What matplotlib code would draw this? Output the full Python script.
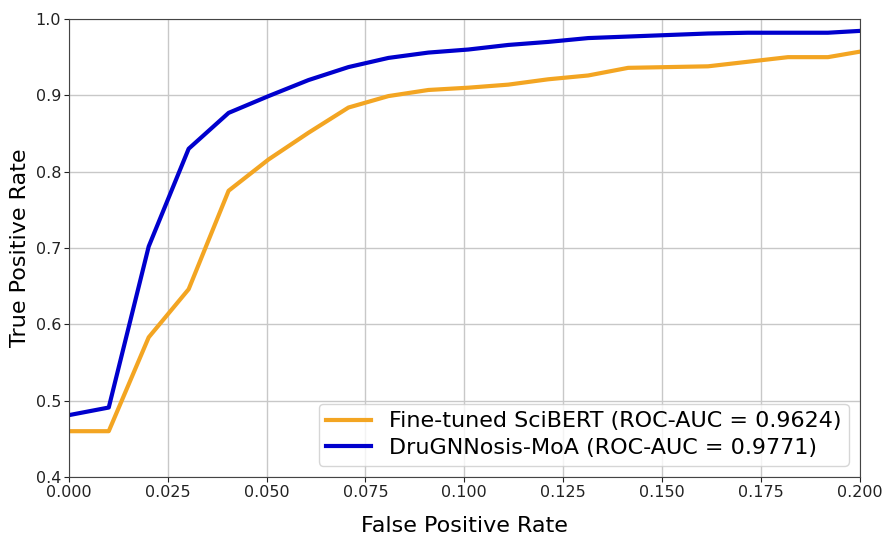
import numpy as np
import matplotlib
matplotlib.use("Agg")
import matplotlib.pyplot as plt

# FPR grid (mean ROC style, np.linspace(0, 1, 100) cut at ~0.2)
fpr = [0.0, 0.0101, 0.0202, 0.0303, 0.0404, 0.0505, 0.0606, 0.0707, 0.0808,
       0.0909, 0.1010, 0.1111, 0.1212, 0.1313, 0.1414, 0.1515, 0.1616,
       0.1717, 0.1818, 0.1919, 0.2020]

# Fine-tuned SciBERT
tpr_scibert = [0.460, 0.460, 0.583, 0.646, 0.775, 0.816, 0.851, 0.884, 0.899,
               0.907, 0.910, 0.914, 0.921, 0.926, 0.936, 0.937, 0.938,
               0.944, 0.950, 0.950, 0.959]

# DruGNNosis-MoA
tpr_moa = [0.481, 0.491, 0.702, 0.830, 0.877, 0.899, 0.920, 0.937, 0.949,
           0.956, 0.960, 0.966, 0.970, 0.975, 0.977, 0.979, 0.981,
           0.982, 0.982, 0.982, 0.985]

label_scibert = "Fine-tuned SciBERT (ROC-AUC = 0.9624)"
label_moa = "DruGNNosis-MoA (ROC-AUC = 0.9771)"

fig = plt.figure(figsize=(8.82, 5.38), dpi=100)
ax = fig.add_axes([0.078, 0.1134, 0.897, 0.8513])

ax.plot(fpr, tpr_scibert, color="#f3a522", lw=3, label=label_scibert)
ax.plot(fpr, tpr_moa, color="#0000cd", lw=3, label=label_moa)

ax.set_xlim(0, 0.2)
ax.set_ylim(0.4, 1.0)
ax.set_xticks(np.arange(0, 0.2001, 0.025))
ax.set_yticks(np.arange(0.4, 1.001, 0.1))
ax.tick_params(labelsize=11.5, colors="#222222", pad=2)
for sp in ax.spines.values():
    sp.set_color("#444444")
ax.set_xlabel("False Positive Rate", fontsize=16, labelpad=12)
ax.set_ylabel("True Positive Rate", fontsize=16, labelpad=4)
ax.grid(True, color="#c8c8c8", lw=1)
ax.legend(loc="lower right", fontsize=16, borderaxespad=0.5,
          labelspacing=0.3, borderpad=0.35)

fig.savefig("out.png", dpi=100)
